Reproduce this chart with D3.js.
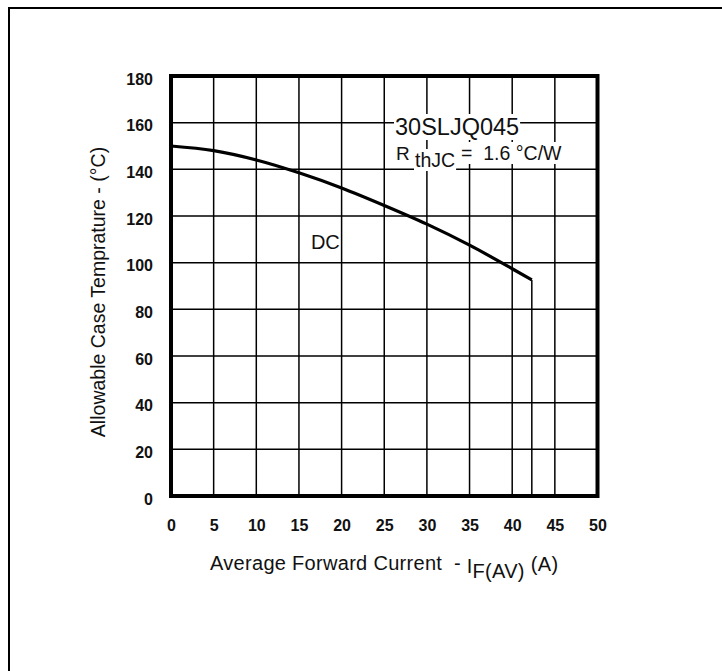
<!DOCTYPE html>
<html><head><meta charset="utf-8">
<script src="https://cdn.jsdelivr.net/npm/d3@7"></script>
<style>
html,body{margin:0;padding:0;background:#fff;overflow:hidden;}
svg{display:block;font-family:"Liberation Sans",Arial,sans-serif;}
</style></head>
<body>
<script>
// Data
const currentA = [0, 5, 10, 15, 20, 25, 30, 35, 40, 42.3];
const caseTempC = [150, 148, 144, 138.5, 132, 124.5, 116.5, 107.5, 97.4, 92.6];
const xTicks = [0, 5, 10, 15, 20, 25, 30, 35, 40, 45, 50];
const yTicks = [0, 20, 40, 60, 80, 100, 120, 140, 160, 180];
const partName = "30SLJQ045";
const rthLabel = ["R", "thJC", "=  1.6 °C/W"];
const seriesLabel = "DC";

const W = 722, H = 671;
const svg = d3.select("body").append("svg").attr("width", W).attr("height", H);
svg.append("rect").attr("width", W).attr("height", H).attr("fill", "#fff");
// outer page border: only top and left edges fall inside the view
svg.append("path").attr("d", "M9,671V8H722").attr("fill", "none")
  .attr("stroke", "#000").attr("stroke-width", 2);

const x = d3.scaleLinear().domain([0, 50]).range([171, 597.5]);
const y = d3.scaleLinear().domain([0, 180]).range([496, 76]);

const g = svg.append("g");
// grid
g.selectAll("line.vg").data(xTicks).join("line")
  .attr("x1", d => x(d)).attr("x2", d => x(d)).attr("y1", y(0)).attr("y2", y(180))
  .attr("stroke", "#000").attr("stroke-width", 1.5);
g.selectAll("line.hg").data(yTicks).join("line")
  .attr("y1", d => y(d)).attr("y2", d => y(d)).attr("x1", x(0)).attr("x2", x(50))
  .attr("stroke", "#000").attr("stroke-width", 1.5);

// annotations with white background
function boxedText(parent, xx, yy, txt, size) {
  const gg = parent.append("g");
  const r = gg.append("rect").attr("fill", "#fff");
  const t = gg.append("text").attr("x", xx).attr("y", yy).attr("font-size", size)
    .attr("fill", "#111").attr("xml:space", "preserve").text(txt);
  const b = t.node().getBBox();
  r.attr("x", b.x - 1).attr("y", b.y).attr("width", b.width + 2).attr("height", b.height);
  return t;
}
boxedText(g, 395, 135, partName, 23.5);
boxedText(g, 396, 160, rthLabel[0], 19);
boxedText(g, 415, 167, rthLabel[1], 19.5);
const rt = boxedText(g, 461, 160, rthLabel[2], 19.5);

// curve
const pts = currentA.map((c, i) => [c, caseTempC[i]]);
const line = d3.line().x(d => x(d[0])).y(d => y(d[1])).curve(d3.curveMonotoneX);
g.append("path").attr("d", line(pts)).attr("fill", "none").attr("stroke", "#000")
  .attr("stroke-width", 3.2).attr("stroke-linejoin", "round");
// vertical drop at end of curve
const last = pts[pts.length - 1];
g.append("line").attr("x1", x(last[0])).attr("x2", x(last[0]))
  .attr("y1", y(last[1])).attr("y2", y(0)).attr("stroke", "#000").attr("stroke-width", 1.5);

g.append("text").attr("x", x(16.4)).attr("y", 249).attr("font-size", 20).attr("fill", "#111").text(seriesLabel);

// frame
g.append("rect").attr("x", x(0)).attr("y", y(180)).attr("width", x(50) - x(0)).attr("height", y(0) - y(180))
  .attr("fill", "none").attr("stroke", "#000").attr("stroke-width", 4);

// axes tick labels (no tick lines, no domain)
const xAxis = d3.axisBottom(x).tickValues(xTicks).tickSize(0).tickPadding(0);
const xa = svg.append("g").attr("transform", "translate(0,520)").call(xAxis);
xa.select(".domain").remove();
xa.selectAll("text").attr("font-size", 16).attr("font-weight", "bold").attr("fill", "#111")
  .attr("font-family", "Liberation Sans, Arial, sans-serif").attr("dy", "0.71em").attr("y", 0);

const yAxis = d3.axisLeft(y).tickValues(yTicks).tickSize(0).tickPadding(0);
const ya = svg.append("g").attr("transform", "translate(153,3)").call(yAxis);
ya.select(".domain").remove();
ya.selectAll("text").attr("font-size", 16).attr("font-weight", "bold").attr("fill", "#111")
  .attr("font-family", "Liberation Sans, Arial, sans-serif").attr("x", 0);

// axis titles
const xt = svg.append("text").attr("x", 210).attr("y", 570).attr("font-size", 20).attr("fill", "#111")
  .attr("xml:space", "preserve").attr("letter-spacing", 0.3);
xt.append("tspan").text("Average Forward Current  - ");
xt.append("tspan").attr("dy", 3).text("I");
xt.append("tspan").attr("dy", 5).text("F(AV)");
xt.append("tspan").attr("dy", -7).attr("dx", 6).text("(A)");

svg.append("text").attr("transform", "translate(105,292) rotate(-90)")
  .attr("text-anchor", "middle").attr("font-size", 19.5).attr("fill", "#111")
  .text("Allowable Case Temprature - (°C)");
</script>
</body></html>
